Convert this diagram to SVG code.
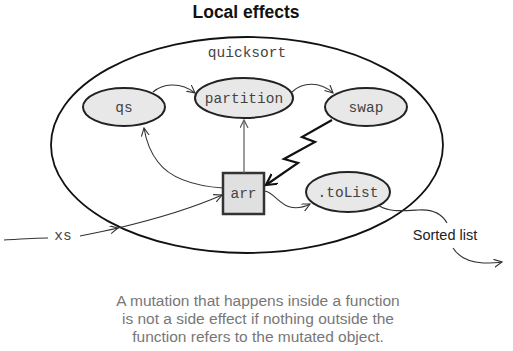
<svg xmlns="http://www.w3.org/2000/svg" width="513" height="351" viewBox="0 0 513 351">
  <defs>
    <style>
      .title { font-family: "Liberation Sans", Arial, sans-serif; font-weight: bold; font-size: 17.5px; fill: #111; }
      .mono { font-family: "Liberation Mono", "Courier New", monospace; font-size: 14.5px; fill: #444; }
      .sans { font-family: "Liberation Sans", Arial, sans-serif; font-size: 14.5px; fill: #222; }
      .caption { font-family: "Liberation Sans", Arial, sans-serif; font-size: 15.5px; fill: #777; }
      .node { fill: #e8e8e8; stroke: #222; stroke-width: 2; }
      .box { fill: #e0e0e0; stroke: #333; stroke-width: 2.5; }
      .edge { fill: none; stroke: #333; stroke-width: 1.1; }
    </style>
    <marker id="open" markerWidth="10" markerHeight="10" refX="8" refY="4" orient="auto" markerUnits="userSpaceOnUse">
      <path d="M0,0 L8,4 L0,8" fill="none" stroke="#333" stroke-width="1.1"/>
    </marker>
    <marker id="openGray" markerWidth="10" markerHeight="10" refX="8" refY="4" orient="auto" markerUnits="userSpaceOnUse">
      <path d="M0,0 L8,4 L0,8" fill="none" stroke="#666" stroke-width="1.3"/>
    </marker>
    <marker id="bolt" markerWidth="14" markerHeight="14" refX="11" refY="6" orient="auto" markerUnits="userSpaceOnUse">
      <path d="M0,0 L11,6 L0,12" fill="none" stroke="#111" stroke-width="2.2"/>
    </marker>
  </defs>

  <text class="title" x="246" y="18" text-anchor="middle">Local effects</text>

  <!-- function scope -->
  <g id="quicksort">
    <ellipse cx="247" cy="145" rx="196" ry="108" fill="none" stroke="#111" stroke-width="1.8"/>
    <text class="mono" x="247" y="57" text-anchor="middle">quicksort</text>
  </g>

  <g id="qs">
    <ellipse class="node" cx="124" cy="107" rx="41" ry="19"/>
    <text class="mono" x="124" y="112" text-anchor="middle">qs</text>
  </g>

  <g id="partition">
    <ellipse class="node" cx="244" cy="98" rx="49" ry="20"/>
    <text class="mono" x="244" y="103" text-anchor="middle">partition</text>
  </g>

  <g id="swap">
    <ellipse class="node" cx="366" cy="107" rx="41" ry="19"/>
    <text class="mono" x="366" y="112" text-anchor="middle">swap</text>
  </g>

  <g id="arr">
    <rect class="box" x="223" y="173" width="41" height="41"/>
    <text class="mono" x="243.5" y="198" text-anchor="middle">arr</text>
  </g>

  <g id="toList">
    <ellipse class="node" cx="348" cy="192" rx="42" ry="20"/>
    <text class="mono" x="348" y="197" text-anchor="middle">.toList</text>
  </g>

  <g id="xs">
    <text class="mono" x="63" y="240" text-anchor="middle">xs</text>
  </g>

  <g id="sorted-list">
    <text class="sans" x="445" y="240" text-anchor="middle">Sorted list</text>
  </g>

  <g id="connectors">
    <!-- calls -->
    <path class="edge" d="M153,92 C162,84 180,81 195,93" marker-end="url(#open)"/>
    <path class="edge" d="M292,92 C302,82 320,81 333,93" marker-end="url(#open)"/>
    <!-- arr read by partition and qs -->
    <path d="M244,173 L244,120" fill="none" stroke="#666" stroke-width="1.3" marker-end="url(#openGray)"/>
    <path class="edge" d="M223,188 C195,186 170,178 158,162 C150,152 146,140 144,128" marker-end="url(#open)"/>
    <!-- mutation by swap -->
    <polyline points="332,120 302,137 315,142 284,159 298,163 266,185" fill="none" stroke="#111" stroke-width="2.2" stroke-linejoin="miter" marker-end="url(#bolt)"/>
    <!-- arr to .toList -->
    <path class="edge" d="M265,191 C274,193 279,204 290,207 C297,209 304,207 310,204" marker-end="url(#open)"/>
    <!-- input xs -->
    <path class="edge" d="M4,240 C20,239 35,238 48,238"/>
    <path class="edge" d="M80,236 C95,233 105,231 118,228" marker-end="url(#open)"/>
    <path class="edge" d="M118,228 C160,218 195,207 222,195" marker-end="url(#open)"/>
    <!-- output sorted list -->
    <path class="edge" d="M378,205 C388,212 400,211 418,210 C432,209 442,214 447,223"/>
    <path class="edge" d="M453,248 C458,256 468,262 483,263 C490,263 496,263 502,262" marker-end="url(#open)"/>
  </g>

  <g id="caption">
    <text class="caption" x="258" y="306" text-anchor="middle">A mutation that happens inside a function</text>
    <text class="caption" x="258" y="324" text-anchor="middle">is not a side effect if nothing outside the</text>
    <text class="caption" x="258" y="342" text-anchor="middle">function refers to the mutated object.</text>
  </g>
</svg>
